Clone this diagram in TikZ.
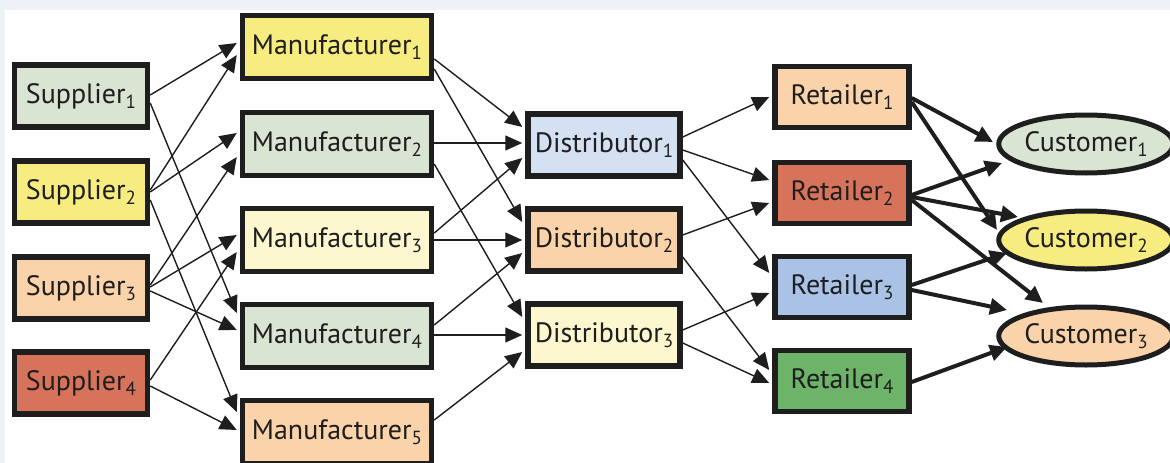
\documentclass[tikz,border=0pt]{standalone}
\usepackage{fontspec}
\setmainfont{PT Sans}
\usetikzlibrary{arrows.meta,calc,shapes.geometric}

\definecolor{sagefill}{HTML}{D9E4D3}
\definecolor{lemonfill}{HTML}{F6EC80}
\definecolor{peachfill}{HTML}{FAD3AA}
\definecolor{brickfill}{HTML}{D8735B}
\definecolor{creamfill}{HTML}{FDF7CF}
\definecolor{icefill}{HTML}{D4E1F3}
\definecolor{skyfill}{HTML}{A9C2E6}
\definecolor{leaffill}{HTML}{6DB36A}
\definecolor{framegray}{HTML}{EEF2F7}
\definecolor{inkcolor}{HTML}{1E1E1E}

% lowered index digit in the text font
\newcommand\idx[1]{\raisebox{-0.35ex}{\fontsize{19}{19}\selectfont #1}}
% thin link from the right side of one box to the left side of the next
\newcommand\flow[4]{\draw[thinlink] ($(#1.east)+(0,#2)$) -- ($(#3.west)+(-3,#4)$);}
% heavy link from a retailer to a customer
\newcommand\deliver[4]{\draw[heavylink] ($(#1.east)+(0,#2)$) -- ($(#3.center)+#4$);}

\begin{document}
\begin{tikzpicture}[x=1pt,y=-1pt,
  card/.style={draw=inkcolor, line width=5.5pt, inner sep=0pt,
    font=\fontsize{28}{32}\selectfont, text=inkcolor},
  supbox/.style={card, minimum width=133pt, minimum height=62pt},
  manbox/.style={card, minimum width=189pt, minimum height=63pt},
  disbox/.style={card, minimum width=152pt, minimum height=62pt},
  retbox/.style={card, minimum width=134pt, minimum height=61pt},
  custnode/.style={card, ellipse, line width=5pt, minimum width=163pt, minimum height=58pt},
  thinlink/.style={draw=inkcolor, line width=1.4pt, -{Triangle[length=17pt,width=15pt]}},
  heavylink/.style={draw=inkcolor, line width=4pt, -{Triangle[length=17pt,width=16pt]}}
]
\useasboundingbox (0,0) rectangle (1170,463);
\fill[framegray] (0,0) rectangle (1170,463);
\fill[white] (5,10) rectangle (1170,463);

% suppliers
\node[supbox, fill=sagefill]  (S1) at (81,96)  {Supplier\idx{1}};
\node[supbox, fill=lemonfill] (S2) at (81,192) {Supplier\idx{2}};
\node[supbox, fill=peachfill] (S3) at (81,288) {Supplier\idx{3}};
\node[supbox, fill=brickfill] (S4) at (81,383) {Supplier\idx{4}};

% manufacturers
\node[manbox, fill=lemonfill] (M1) at (337,47)  {Manufacturer\idx{1}};
\node[manbox, fill=sagefill]  (M2) at (337,144) {Manufacturer\idx{2}};
\node[manbox, fill=creamfill] (M3) at (337,240) {Manufacturer\idx{3}};
\node[manbox, fill=sagefill]  (M4) at (337,336) {Manufacturer\idx{4}};
\node[manbox, fill=peachfill] (M5) at (337,432) {Manufacturer\idx{5}};

% distributors
\node[disbox, fill=icefill]   (D1) at (604,145) {Distributor\idx{1}};
\node[disbox, fill=peachfill] (D2) at (604,240) {Distributor\idx{2}};
\node[disbox, fill=creamfill] (D3) at (604,335) {Distributor\idx{3}};

% retailers
\node[retbox, fill=peachfill] (R1) at (842,97)  {Retailer\idx{1}};
\node[retbox, fill=brickfill] (R2) at (842,193) {Retailer\idx{2}};
\node[retbox, fill=skyfill]   (R3) at (842,287) {Retailer\idx{3}};
\node[retbox, fill=leaffill]  (R4) at (842,381) {Retailer\idx{4}};

% customers
\node[custnode, fill=sagefill]  (C1) at (1086,144) {Customer\idx{1}};
\node[custnode, fill=lemonfill] (C2) at (1086,240) {Customer\idx{2}};
\node[custnode, fill=peachfill] (C3) at (1086,336) {Customer\idx{3}};

% suppliers -> manufacturers
\flow{S1}{-1}{M1}{-4}
\flow{S1}{7}{M4}{-23}
\flow{S2}{-2}{M1}{8}
\flow{S2}{0}{M2}{-11}
\flow{S2}{8}{M5}{-20}
\flow{S3}{-3}{M2}{13}
\flow{S3}{-1}{M3}{-5}
\flow{S3}{3}{M4}{-6}
\flow{S4}{-3}{M3}{12}
\flow{S4}{3}{M5}{-2}

% manufacturers -> distributors
\flow{M1}{12}{D1}{-18}
\flow{M1}{22}{D2}{-18}
\flow{M2}{-1}{D1}{-2}
\flow{M2}{20}{D3}{-18}
\flow{M3}{-7}{D1}{13}
\flow{M3}{0}{D2}{0}
\flow{M4}{-1}{D3}{0}
\flow{M4}{-11}{D2}{13}
\flow{M5}{-12}{D3}{17}

% distributors -> retailers
\flow{D1}{-8}{R1}{0}
\flow{D1}{5}{R2}{-13}
\flow{D1}{15}{R3}{-14}
\flow{D2}{-5}{R2}{10}
\flow{D2}{17}{R4}{-11}
\flow{D3}{-5}{R3}{6}
\flow{D3}{8}{R4}{2}

% retailers -> customers
\deliver{R1}{1}{C1}{(-93,-2)}
\deliver{R1}{5}{C2}{(-89,-10)}
\deliver{R2}{2}{C1}{(-84,19)}
\deliver{R2}{4}{C2}{(-68,-23)}
\deliver{R2}{7}{C3}{(-43,-33)}
\deliver{R3}{-2}{C2}{(-79,13)}
\deliver{R3}{3}{C3}{(-79,-26)}
\deliver{R4}{1}{C3}{(-79,11)}
\end{tikzpicture}
\end{document}
